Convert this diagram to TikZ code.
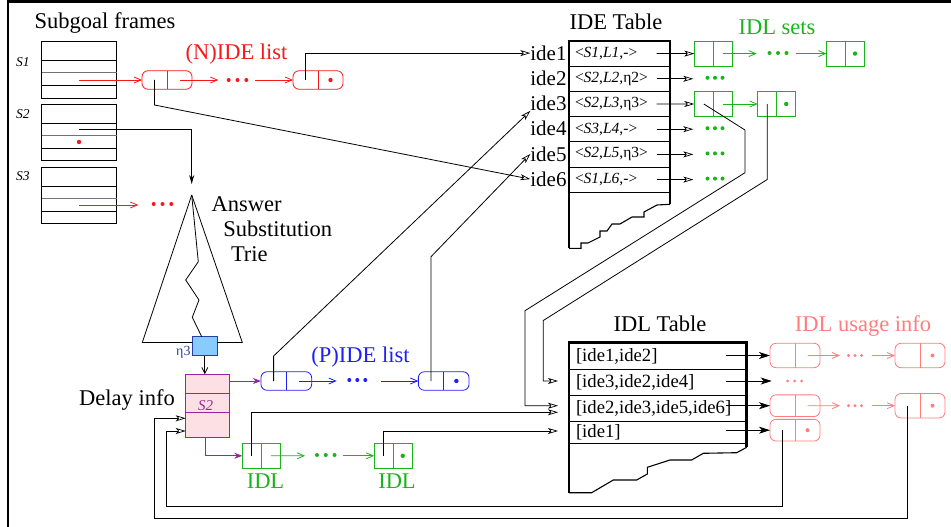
\documentclass[tikz,border=0pt]{standalone}
\usepackage{fontspec}
\setmainfont{Liberation Serif}
\usetikzlibrary{arrows.meta,calc}
\definecolor{nred}{RGB}{245,25,25}
\definecolor{pblue}{RGB}{30,30,245}
\definecolor{igreen}{RGB}{25,180,25}
\definecolor{upink}{RGB}{255,125,125}
\definecolor{dpurple}{RGB}{155,35,155}
\definecolor{dfill}{RGB}{252,224,228}
\definecolor{bfill}{RGB}{136,204,255}
\definecolor{bline}{RGB}{40,60,170}
\begin{document}
\begin{tikzpicture}[x=1pt,y=-1pt,line width=0.8pt,
 every node/.style={inner sep=0pt,outer sep=0pt},
 bigtext/.style={font=\fontsize{22.5}{25}\selectfont,anchor=base},
 idetext/.style={font=\fontsize{21}{23}\selectfont,anchor=base east},
 slab/.style={font=\fontsize{13.5}{15}\selectfont\itshape,anchor=base},
 iderow/.style={draw,anchor=north west,minimum width=101pt,minimum height=25.2pt,text width=89pt,inner xsep=6pt,align=left,font=\fontsize{15.5}{17}\selectfont},
 idlrow/.style={draw,anchor=north west,minimum width=177.7pt,text width=163.7pt,inner xsep=7pt,align=left,font=\fontsize{18.7}{20}\selectfont},
 pill/.style={draw,rounded corners=6pt,minimum width=50pt,minimum height=18.5pt},
 sq/.style={draw,minimum width=38pt,minimum height=25.3pt},
 ohead/.style={-{Stealth[fill=white,length=10pt,width=6pt,inset=2.5pt,line width=0.7pt]}},
 bhead/.style={-{Straight Barb[length=7pt,width=6pt]}},
 fhead/.style={-{Stealth[length=11pt,width=7pt,inset=3pt]}},
 phead/.style={-{Stealth[length=8pt,width=6pt]}}]
\useasboundingbox (0,0) rectangle (951,527);
% outer frame
\draw[line width=2.6pt] (8,527) -- (8,1.5) -- (951,1.5);

% ---------- subgoal frames ----------
\node[bigtext] (tsub) at (105,28.5) {Subgoal frames};
\foreach \i/\t in {1/41.7,2/104.3,3/167.3}{
  \node[draw,anchor=north west,minimum width=75pt,minimum height=56.3pt] (sf\i) at (41.7,\t) {};
  \draw ($(sf\i.north west)+(0,18.6)$) -- ($(sf\i.north east)+(0,18.6)$);
  \draw[black!55] ($(sf\i.north west)+(0,31)$) -- ($(sf\i.north east)+(0,31)$);
  \draw ($(sf\i.north west)+(0,44)$) -- ($(sf\i.north east)+(0,44)$);
}
\node[slab] (lS1) at (23,66.7) {S1};
\node[slab] (lS2) at (23,118) {S2};
\node[slab] (lS3) at (23,180) {S3};

% ---------- (N)IDE list ----------
\node[bigtext,text=nred] (tnide) at (236.5,60) {(N)IDE list};
\node[pill,nred] (nl1) at (167,80) {};
\node[pill,nred] (nl2) at (318,80) {};
\foreach \n in {nl1,nl2} \draw[nred] (\n.north) -- (\n.south);
\coordinate (s1p) at (79,80);
\draw[nred,bhead] (s1p) -- (nl1.west);
\coordinate (nd1) at (218.3,80);
\coordinate (nd2) at (255,80);
\draw[nred,bhead] ($(nl1.east)!0.5!(nl1.center)$) -- (nd1);
\foreach \x in {228.7,237.5,246.3} \fill[nred] (\x,80) circle (2pt);
\draw[nred,bhead] (nd2) -- (nl2.west);
\fill[nred] ($(nl2.east)!0.5!(nl2.center)$) circle (2.2pt);

% S2 / S3
\fill[nred] (79,142) circle (2.2pt);
\coordinate (s3p) at (79,205);
\coordinate (s3d) at (138.3,205);
\draw[nred,bhead] (s3p) -- (s3d);
\foreach \x in {153.7,162.5,171.3} \fill[nred] (\x,204) circle (2pt);

% ---------- answer trie ----------
\coordinate (apex) at (191.7,195);
\coordinate (s2p) at (79,129.3);
\draw[-{Stealth[length=9pt,width=5pt]},shorten >=11pt] (s2p) -| (apex);
\node[draw=bline,fill=bfill,minimum width=25pt,minimum height=19pt] (eta) at (204.8,346.2) {};
\draw (apex) -- (142.3,342.5) -- (eta.west |- 0,342.5);
\draw (eta.east |- 0,342.5) -- (242.3,342.5) -- (apex);
\draw (apex) -- (198.3,261.7) -- (185.7,280) -- (199,300) -- (192.3,317.3) -- (201.7,336.7);
\node[font=\fontsize{14}{15}\selectfont,text=bline,anchor=base east] (etal) at (190.5,355) {η3};
\node[bigtext,anchor=base west] (trieA) at (211.7,211) {Answer};
\node[bigtext,anchor=base west] (trieB) at (223.3,236.5) {Substitution};
\node[bigtext,anchor=base west] (trieC) at (231,261) {Trie};

% ---------- delay info ----------
\node[draw=dpurple,fill=dfill,minimum width=44pt,minimum height=63pt] (delay) at (207.7,405.8) {};
\draw[dpurple] ($(delay.north west)+(0,19)$) -- ($(delay.north east)+(0,19)$);
\draw[dpurple] ($(delay.north west)+(0,37.7)$) -- ($(delay.north east)+(0,37.7)$);
\node[font=\fontsize{15}{16}\selectfont\itshape,text=dpurple,anchor=base] (dS2) at (205.5,410) {S2};
\node[bigtext] (tdelay) at (127,405.7) {Delay info};
\draw[-{Straight Barb[length=6pt,width=6pt]}] (eta.south) -- (eta.south |- delay.north);

% ---------- (P)IDE list ----------
\node[bigtext,text=pblue] (tpide) at (360.5,362.3) {(P)IDE list};
\node[pill,pblue,minimum width=50.7pt] (pl1) at (286.3,381) {};
\node[pill,pblue,minimum width=50.7pt] (pl2) at (443.7,381) {};
\foreach \n in {pl1,pl2} \draw[pblue] (\n.north) -- (\n.south);
\draw[dpurple,phead] ($(delay.north east)+(0,6.7)$) -- (pl1.west);
\coordinate (pd1) at (336.7,381);
\coordinate (pd2) at (381,381);
\draw[pblue,bhead] ($(pl1.east)!0.5!(pl1.center)$) -- (pd1);
\foreach \x in {349.3,357.3,365.3} \fill[pblue] (\x,380) circle (2pt);
\draw[pblue,bhead] (pd2) -- (pl2.west);
\fill[pblue] ($(pl2.east)!0.5!(pl2.center)$) circle (2.2pt);

% ---------- lower IDL list ----------
\node[sq,igreen] (gl1) at (261.3,455.8) {};
\node[sq,igreen] (gl2) at (393.2,455.8) {};
\foreach \n in {gl1,gl2} \draw[igreen] (\n.north) -- (\n.south);
\draw[dpurple,phead] ($(delay.south)+(-2.7,0)$) |- (gl1.west);
\coordinate (gd1) at (305,455.8);
\coordinate (gd2) at (343.3,455.8);
\draw[igreen,bhead] ($(gl1.east)!0.5!(gl1.center)$) -- (gd1);
\foreach \x in {317,325.8,334.5} \fill[igreen] (\x,455) circle (2pt);
\draw[igreen,bhead] (gd2) -- (gl2.west);
\fill[igreen] ($(gl2.east)!0.5!(gl2.center)$) circle (2.2pt);
\node[bigtext,text=igreen] (tidl1) at (265.5,488.3) {IDL};
\node[bigtext,text=igreen] (tidl2) at (397,488.3) {IDL};

% ---------- IDE table ----------
\node[bigtext] (tide) at (616,29.3) {IDE Table};
\node[iderow] (ir1) at (569,41) {<\textit{S1},\textit{L1},\textit{-}>};
\node[iderow] (ir2) at (569,66.2) {<\textit{S2},\textit{L2},η2>};
\node[iderow] (ir3) at (569,91.4) {<\textit{S2},\textit{L3},η3>};
\node[iderow] (ir4) at (569,116.6) {<\textit{S3},\textit{L4},\textit{-}>};
\node[iderow] (ir5) at (569,141.8) {<\textit{S2},\textit{L5},η3>};
\node[iderow] (ir6) at (569,167) {<\textit{S1},\textit{L6},\textit{-}>};
\draw[line width=2.6pt] (569,248.3) -- (569,41) -- (670,41) -- (670,204.3);
\draw[line width=1.1pt] (670,204.3) -- (657,205) -- (644,212) -- (644,217) -- (632,217) -- (620,224) -- (612,224) -- (607,231) -- (600,231) -- (600,237) -- (588,243) -- (581,243) -- (581,248.3) -- (569,248.3);
\node[idetext] (ide1) at (566.5,60.3) {ide1};
\node[idetext] (ide2) at (566.5,85.5) {ide2};
\node[idetext] (ide3) at (566.5,110.7) {ide3};
\node[idetext] (ide4) at (566.5,135.9) {ide4};
\node[idetext] (ide5) at (566.5,161.1) {ide5};
\node[idetext] (ide6) at (566.5,186.3) {ide6};

% pointers into IDE table
\draw[ohead] ($(nl2.west)!0.5!(nl2.center)$) |- (ide1.west);
\draw[ohead] ($(nl1.west)!0.5!(nl1.center)$) -- ++(0,25) -- (ide6.west);
\draw[ohead] ($(pl1.west)!0.5!(pl1.center)$) -- ++(0,-25) -- (ide3.south west);
\draw[ohead] ($(pl2.west)!0.5!(pl2.center)$) -- ++(0,-124.3) -- (ide5.west);

% ---------- IDL sets ----------
\node[bigtext,text=igreen] (tsets) at (777,35) {IDL sets};
\node[sq,igreen] (gA) at (713.3,53.6) {};
\node[sq,igreen] (gB) at (845.5,53.6) {};
\node[sq,igreen] (gC) at (713.3,104) {};
\node[sq,igreen] (gD) at (776.7,104) {};
\foreach \n in {gA,gB,gC,gD} \draw[igreen] (\n.north) -- (\n.south);
\draw[ohead] ($(ir1.east)+(-13.3,0)$) -- (gA.west);
\draw[ohead] ($(ir3.east)+(-13.3,0)$) -- (gC.west);
\foreach \r in {2,4,5,6}{
  \coordinate (e\r) at ($(ir\r.east)+(23.3,0)$);
  \draw[ohead] ($(ir\r.east)+(-13.3,0)$) -- (e\r);
  \foreach \dx in {14.2,21.7,29.2} \fill[igreen] ($(e\r)+(\dx,-1)$) circle (2pt);
}
\coordinate (ga1) at (756.7,53.6);
\coordinate (ga2) at (795.7,53.6);
\draw[igreen,bhead] ($(gA.east)!0.5!(gA.center)$) -- (ga1);
\foreach \x in {769.5,778,786.5} \fill[igreen] (\x,53) circle (2pt);
\draw[igreen,bhead] (ga2) -- (gB.west);
\fill[igreen] ($(gB.east)!0.5!(gB.center)$) circle (2.2pt);
\draw[igreen,bhead] ($(gC.east)!0.5!(gC.center)$) -- (gD.west);
\fill[igreen] ($(gD.east)!0.5!(gD.center)$) circle (2.2pt);

% ---------- IDL table ----------
\node[bigtext] (tidlt) at (660,331) {IDL Table};
\node[idlrow,minimum height=26.6pt] (lr1) at (569,342.7) {[ide1,ide2]};
\node[idlrow,minimum height=26pt] (lr2) at (569,369.3) {[ide3,ide2,ide4]};
\node[idlrow,minimum height=26pt] (lr3) at (569,395.3) {[ide2,ide3,ide5,ide6]};
\node[idlrow,minimum height=22pt] (lr4) at (569,421.3) {[ide1]};
\draw[line width=2.6pt] (569,492.7) -- (569,342.7) -- (746.7,342.7) -- (746.7,447.3);
\draw[line width=1.1pt] (746.7,447.3) -- (736.7,452.7) -- (703.3,453.3) -- (691.7,460) -- (670,460) -- (647.3,467.3) -- (647.3,474) -- (636.7,480) -- (613.3,480) -- (591.7,492.7) -- (569,492.7);
\coordinate (in2) at ($(lr2.north west)+(-11,11.7)$);
\coordinate (in3a) at ($(lr3.north west)+(-11,10.4)$);
\coordinate (in3b) at ($(lr3.north west)+(-11,17)$);
\coordinate (in4) at ($(lr4.north west)+(-11,9.7)$);
\draw[ohead] ($(gC.west)!0.5!(gC.center)$) -- (745,130) -- (745,172.7) -- (525,310.7) |- (in3a);
\draw[ohead] ($(gD.west)!0.5!(gD.center)$) -- ++(0,75.5) -- (543.3,320.5) |- (in2);
\draw[ohead] ($(gl1.west)!0.5!(gl1.center)$) |- (in3b);
\draw[ohead] ($(gl2.west)!0.5!(gl2.center)$) |- (in4);

% ---------- IDL usage info ----------
\node[bigtext,text=upink] (tusage) at (863,331) {IDL usage info};
\node[pill,upink,minimum height=24.4pt] (P1) at (795,355.5) {};
\node[pill,upink,minimum height=24.4pt] (P2) at (920,355.5) {};
\node[pill,upink,minimum height=21.7pt] (P3) at (795,405.7) {};
\node[pill,upink,minimum height=24.4pt] (P4) at (920,405.7) {};
\node[pill,upink,minimum height=21.7pt] (P5) at (795,430.2) {};
\foreach \n in {P1,P2,P3,P4,P5} \draw[upink] (\n.north) -- (\n.south);
\coordinate (q2) at (771.7,381);
\draw[fhead] ($(P1.west)+(-44,0)$) -- (P1.west);
\draw[fhead] ($(q2)+(-45.7,0)$) -- (q2);
\draw[fhead] ($(P3.west)+(-44,0)$) -- (P3.west);
\draw[fhead] ($(P5.west)+(-44,0)$) -- (P5.west);
\foreach \x in {787.5,794.5,801.5} \fill[upink] (\x,381) circle (1.5pt);
\foreach \p/\q in {P1/P2,P3/P4}{
  \coordinate (u1) at ($(\p.east)+(20,0)$);
  \coordinate (u2) at ($(\q.west)+(-23.3,0)$);
  \draw[upink,bhead] ($(\p.east)!0.5!(\p.center)$) -- (u1);
  \foreach \dx in {8.5,15,21.5} \fill[upink] ($(u1)+(\dx,0)$) circle (1.6pt);
  \draw[upink,bhead] (u2) -- (\q.west);
}
\fill[upink] ($(P2.east)!0.5!(P2.center)$) circle (2pt);
\fill[upink] ($(P4.east)!0.5!(P4.center)$) circle (2pt);
\fill[upink] ($(P5.east)!0.5!(P5.center)$) circle (2pt);

% back pointers to delay info
\coordinate (dl1) at ($(delay.north west)+(0,44)$);
\coordinate (dl2) at ($(delay.north west)+(0,56.7)$);
\draw[ohead] ($(P4.west)!0.5!(P4.center)$) |- (154.3,518.3) |- (dl1);
\draw[ohead] ($(P5.west)!0.5!(P5.center)$) |- (166.7,506.3) |- (dl2);
\end{tikzpicture}
\end{document}
